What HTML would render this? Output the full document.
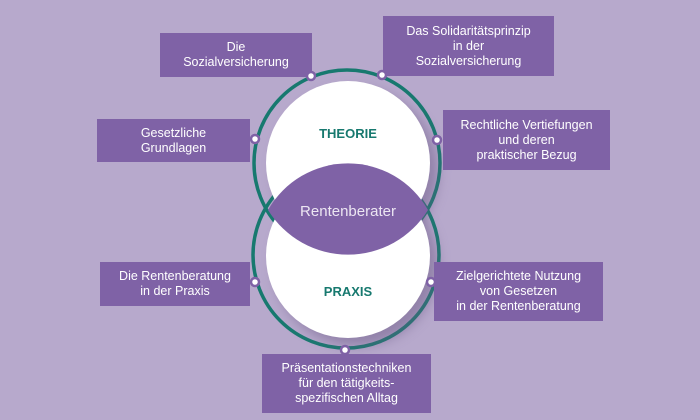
<!DOCTYPE html>
<html><head><meta charset="utf-8"><style>
body{margin:0;width:700px;height:420px;background:#b7a9cc;overflow:hidden;font-family:"Liberation Sans",sans-serif}
.b{position:absolute;background:#7f62a6;color:#fff;font-size:12.5px;line-height:15px;text-align:center;display:flex;align-items:center;justify-content:center}
</style></head><body>
<svg width="700" height="420" style="position:absolute;left:0;top:0">
<defs><filter id="s" x="-30%" y="-30%" width="160%" height="160%"><feGaussianBlur stdDeviation="6"/></filter></defs>
<circle cx="347" cy="163" r="93" fill="none" stroke="#17796f" stroke-width="3.5"/>
<circle cx="346" cy="255" r="93" fill="none" stroke="#17796f" stroke-width="3.5"/>
<circle cx="356" cy="171" r="82" fill="#6c5a86" opacity="0.5" filter="url(#s)"/>
<circle cx="356" cy="264" r="82" fill="#6c5a86" opacity="0.5" filter="url(#s)"/>
<circle cx="348" cy="163" r="82" fill="#fff"/>
<circle cx="348" cy="256" r="82" fill="#fff"/>
<path d="M268 210 A92 92 0 0 1 428 210 A94 94 0 0 1 268 210 Z" fill="#7f62a6"/>
<text x="348" y="216" text-anchor="middle" fill="#ece6f2" font-size="15" font-family="Liberation Sans">Rentenberater</text>
<text x="348" y="138" text-anchor="middle" fill="#17796f" font-size="13" font-weight="bold" font-family="Liberation Sans">THEORIE</text>
<text x="348" y="296" text-anchor="middle" fill="#17796f" font-size="13" font-weight="bold" font-family="Liberation Sans">PRAXIS</text>
</svg>
<div class="b" style="left:160px;top:33px;width:152px;height:44px">Die<br>Sozialversicherung</div>
<div class="b" style="left:383px;top:16px;width:171px;height:60px">Das Solidaritätsprinzip<br>in der<br>Sozialversicherung</div>
<div class="b" style="left:97px;top:119px;width:153px;height:43px">Gesetzliche<br>Grundlagen</div>
<div class="b" style="left:443px;top:110px;width:167px;height:60px">Rechtliche Vertiefungen<br>und deren<br>praktischer Bezug</div>
<div class="b" style="left:100px;top:262px;width:150px;height:44px">Die Rentenberatung<br>in der Praxis</div>
<div class="b" style="left:434px;top:262px;width:169px;height:59px">Zielgerichtete Nutzung<br>von Gesetzen<br>in der Rentenberatung</div>
<div class="b" style="left:262px;top:354px;width:169px;height:59px">Präsentationstechniken<br>für den tätigkeits-<br>spezifischen Alltag</div>
<svg width="700" height="420" style="position:absolute;left:0;top:0">
<g fill="#fff" stroke="#7f62a6" stroke-width="2.5">
<circle cx="311" cy="76" r="4"/><circle cx="382" cy="75" r="4"/>
<circle cx="255" cy="139" r="4"/><circle cx="437" cy="140" r="4"/>
<circle cx="255" cy="282" r="4"/><circle cx="431" cy="282" r="4"/>
<circle cx="345" cy="350" r="4"/>
</g>
</svg>
</body></html>
